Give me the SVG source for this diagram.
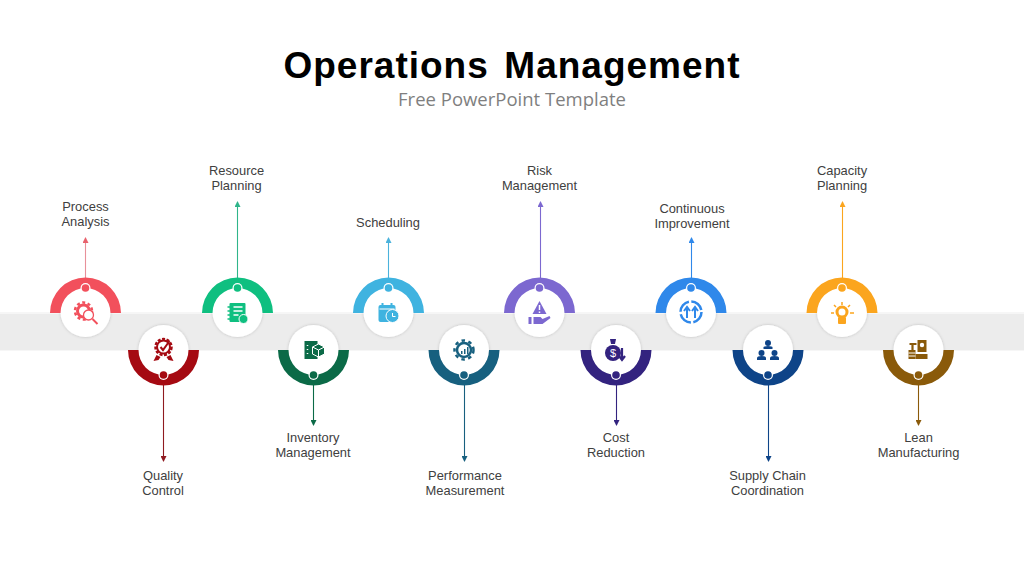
<svg xmlns="http://www.w3.org/2000/svg" width="1024" height="576" viewBox="0 0 1024 576">
<style>
.t{font-family:"Liberation Sans",Arial,sans-serif;font-size:12.9px;fill:#404040;text-anchor:middle}
.title{font-family:"Liberation Sans",Arial,sans-serif;font-size:37px;font-weight:700;fill:#000;text-anchor:middle;letter-spacing:1px;word-spacing:-3.5px}
.sub{font-family:"Open Sans",sans-serif;font-size:18.5px;fill:#7f7f7f;text-anchor:middle}
.c{fill:none;stroke-width:1.1}
</style>
<defs>
<filter id="sh" x="-30%" y="-30%" width="160%" height="160%"><feDropShadow dx="0" dy="0" stdDeviation="1.5" flood-color="#000" flood-opacity=".2"/></filter>
<path id="au" d="M-35.500,0A35.500,35.500 0 0 1 35.500,0H25A25,25 0 0 0-25,0Z"/>
<path id="ad" d="M-35.500,0A35.500,35.500 0 0 0 35.500,0H25A25,25 0 0 1-25,0Z"/>
<marker id="m1" markerUnits="userSpaceOnUse" markerWidth="6" markerHeight="6" refX="5" refY="3" orient="auto"><path d="M0,0L6,3L0,6Z" fill="#e8616c"/></marker>
<marker id="m2" markerUnits="userSpaceOnUse" markerWidth="6" markerHeight="6" refX="5" refY="3" orient="auto"><path d="M0,0L6,3L0,6Z" fill="#8f1a20"/></marker>
<marker id="m3" markerUnits="userSpaceOnUse" markerWidth="6" markerHeight="6" refX="5" refY="3" orient="auto"><path d="M0,0L6,3L0,6Z" fill="#2fb58a"/></marker>
<marker id="m4" markerUnits="userSpaceOnUse" markerWidth="6" markerHeight="6" refX="5" refY="3" orient="auto"><path d="M0,0L6,3L0,6Z" fill="#0b6a47"/></marker>
<marker id="m5" markerUnits="userSpaceOnUse" markerWidth="6" markerHeight="6" refX="5" refY="3" orient="auto"><path d="M0,0L6,3L0,6Z" fill="#4bb2dc"/></marker>
<marker id="m6" markerUnits="userSpaceOnUse" markerWidth="6" markerHeight="6" refX="5" refY="3" orient="auto"><path d="M0,0L6,3L0,6Z" fill="#17607f"/></marker>
<marker id="m7" markerUnits="userSpaceOnUse" markerWidth="6" markerHeight="6" refX="5" refY="3" orient="auto"><path d="M0,0L6,3L0,6Z" fill="#7c68d0"/></marker>
<marker id="m8" markerUnits="userSpaceOnUse" markerWidth="6" markerHeight="6" refX="5" refY="3" orient="auto"><path d="M0,0L6,3L0,6Z" fill="#33237f"/></marker>
<marker id="m9" markerUnits="userSpaceOnUse" markerWidth="6" markerHeight="6" refX="5" refY="3" orient="auto"><path d="M0,0L6,3L0,6Z" fill="#2f88ea"/></marker>
<marker id="m10" markerUnits="userSpaceOnUse" markerWidth="6" markerHeight="6" refX="5" refY="3" orient="auto"><path d="M0,0L6,3L0,6Z" fill="#0e4488"/></marker>
<marker id="m11" markerUnits="userSpaceOnUse" markerWidth="6" markerHeight="6" refX="5" refY="3" orient="auto"><path d="M0,0L6,3L0,6Z" fill="#fba51e"/></marker>
<marker id="m12" markerUnits="userSpaceOnUse" markerWidth="6" markerHeight="6" refX="5" refY="3" orient="auto"><path d="M0,0L6,3L0,6Z" fill="#8a5a0a"/></marker>
</defs>
<rect width="1024" height="576" fill="#fff"/>
<rect id="band" x="0" y="312" width="1024" height="39" fill="#f6f6f6"/>
<rect x="0" y="314" width="1024" height="36" fill="#ececec"/>
<text class="title" x="512" y="78" xml:space="preserve">Operations  Management</text>
<text class="sub" x="512" y="106">Free PowerPoint Template</text>
<g id="connectors">
<path class="c" d="M85.500,278V238" stroke="#e8909a" marker-end="url(#m1)"/>
<path class="c" d="M163.500,385V461" stroke="#8f1a20" marker-end="url(#m2)"/>
<path class="c" d="M237.500,278V202" stroke="#2fb58a" marker-end="url(#m3)"/>
<path class="c" d="M313.500,385V425" stroke="#0b6a47" marker-end="url(#m4)"/>
<path class="c" d="M388.500,278V238" stroke="#4bb2dc" marker-end="url(#m5)"/>
<path class="c" d="M464.500,385V461" stroke="#17607f" marker-end="url(#m6)"/>
<path class="c" d="M540.500,278V202" stroke="#7c68d0" marker-end="url(#m7)"/>
<path class="c" d="M616.500,385V425" stroke="#33237f" marker-end="url(#m8)"/>
<path class="c" d="M691.500,278V238" stroke="#2f88ea" marker-end="url(#m9)"/>
<path class="c" d="M768.500,385V461" stroke="#0e4488" marker-end="url(#m10)"/>
<path class="c" d="M842.500,278V202" stroke="#fba51e" marker-end="url(#m11)"/>
<path class="c" d="M918.500,385V425" stroke="#8a5a0a" marker-end="url(#m12)"/>
</g>
<g id="n1" transform="translate(85.500,313)" fill="#f2505c">
<circle r="25" cy="-1" fill="#fff" filter="url(#sh)"/><use href="#au"/><circle cy="-25" r="5" fill="#fff"/><circle cy="-25" r="3.800"/>
<circle cx="-2" cy="-2" r="6" fill="none" stroke="#f2505c" stroke-width="3"/><circle cx="-2" cy="-2" r="8.500" fill="none" stroke="#f2505c" stroke-width="2.500" stroke-dasharray="3 2.500"/>
<circle cx="3" cy="2" r="5" fill="#fff" stroke="#f2505c" stroke-width="1.300"/><path d="M7,6L12,11" stroke="#f2505c" stroke-width="2"/>
</g>
<text class="t" x="85.500" y="211">Process</text><text class="t" x="85.500" y="226">Analysis</text>
<g id="n2" transform="translate(163.500,350)" fill="#a50a12">
<circle r="25" fill="#fff" filter="url(#sh)"/><use href="#ad"/><circle cy="25" r="5" fill="#fff"/><circle cy="25" r="3.800"/>
<circle cy="-3" r="6.500" fill="none" stroke="#a50a12" stroke-width="2"/><circle cy="-3" r="8" fill="none" stroke="#a50a12" stroke-width="2.500" stroke-dasharray="3 1.500"/>
<path d="M-3,-3L-.5,0L6,-9" fill="none" stroke="#a50a12" stroke-width="2"/><path d="M-7,5L-10,11L-5,10L-3,7ZM7,5L10,11L5,10L3,7Z"/>
</g>
<text class="t" x="163" y="480">Quality</text><text class="t" x="163" y="495">Control</text>
<g id="n3" transform="translate(237.500,313)" fill="#0fbf80">
<circle r="25" cy="-1" fill="#fff" filter="url(#sh)"/><use href="#au"/><circle cy="-25" r="5" fill="#fff"/><circle cy="-25" r="3.800"/>
<rect x="-8" y="-10" width="16" height="19" rx="1"/><path d="M-10,-6h3M-10,-2h3M-10,2h3M-10,6h3" stroke="#0fbf80" stroke-width="1.500"/><path d="M-4,-6h9M-4,-2h9M-4,2h5" stroke="#fff" stroke-width="1.300"/><circle cx="6" cy="6" r="4.500" stroke="#fff"/>
</g>
<text class="t" x="236.500" y="175">Resource</text><text class="t" x="236.500" y="190">Planning</text>
<g id="n4" transform="translate(313.500,350)" fill="#0b6a47">
<circle r="25" fill="#fff" filter="url(#sh)"/><use href="#ad"/><circle cy="25" r="5" fill="#fff"/><circle cy="25" r="3.800"/>
<rect x="-9" y="-9" width="13" height="18"/><path d="M-6,-5v1M-6,-1v1M-6,3v1" stroke="#fff" stroke-width="1.500"/><path d="M-1,-3L5,-6L11,-3V4L5,7L-1,4Z" stroke="#fff"/><path d="M-1,-3L5,0L11,-3M5,0V7" fill="none" stroke="#fff"/>
</g>
<text class="t" x="313" y="442">Inventory</text><text class="t" x="313" y="457">Management</text>
<g id="n5" transform="translate(388.500,313)" fill="#3fb3e0">
<circle r="25" cy="-1" fill="#fff" filter="url(#sh)"/><use href="#au"/><circle cy="-25" r="5" fill="#fff"/><circle cy="-25" r="3.800"/>
<rect x="-10" y="-8" width="17" height="17" rx="2"/><path d="M-6,-10v3M3,-10v3" stroke="#3fb3e0" stroke-width="2"/><path d="M-9,-4H6" stroke="#fff"/><circle cx="4" cy="3" r="6.500" stroke="#fff"/><path d="M4,0V3.500H7" fill="none" stroke="#fff"/>
</g>
<text class="t" x="388" y="227">Scheduling</text>
<g id="n6" transform="translate(464,350)" fill="#17607f">
<circle r="25" fill="#fff" filter="url(#sh)"/><use href="#ad"/><circle cy="25" r="5" fill="#fff"/><circle cy="25" r="3.800"/>
<circle r="7" fill="none" stroke="#17607f" stroke-width="2.500"/><circle r="9.500" fill="none" stroke="#17607f" stroke-width="2.500" stroke-dasharray="3.500 3.500"/><path d="M-3,1h1.500v3h-1.500zM0,-1h1.500v5h-1.500zM3,-3h1.500v7h-1.500z"/>
</g>
<text class="t" x="465" y="480">Performance</text><text class="t" x="465" y="495">Measurement</text>
<g id="n7" transform="translate(539.500,313)" fill="#7c68d0">
<circle r="25" cy="-1" fill="#fff" filter="url(#sh)"/><use href="#au"/><circle cy="-25" r="5" fill="#fff"/><circle cy="-25" r="3.800"/>
<path d="M0,-12L7,1H-7Z"/><path d="M0,-8V-3M0,-1.500V0" stroke="#fff" stroke-width="1.500"/><rect x="-11" y="4" width="3" height="7"/><path d="M-6,4H1L3,6L10,3L11,5L3,11H-6Z"/>
</g>
<text class="t" x="539.500" y="175">Risk</text><text class="t" x="539.500" y="190">Management</text>
<g id="n8" transform="translate(616,350)" fill="#33237f">
<circle r="25" fill="#fff" filter="url(#sh)"/><use href="#ad"/><circle cy="25" r="5" fill="#fff"/><circle cy="25" r="3.800"/>
<path d="M-6,-11H0L-1,-6H-5Z"/><circle cx="-3" cy="3" r="8"/><text x="-3" y="7" font-family="Liberation Sans,sans-serif" font-size="11" fill="#fff" text-anchor="middle">$</text><path d="M6,-2V9M3,6L6,10L9,6" fill="none" stroke="#33237f" stroke-width="2.200"/>
</g>
<text class="t" x="616" y="442">Cost</text><text class="t" x="616" y="457">Reduction</text>
<g id="n9" transform="translate(691,313)" fill="#2f88ea">
<circle r="25" cy="-1" fill="#fff" filter="url(#sh)"/><use href="#au"/><circle cy="-25" r="5" fill="#fff"/><circle cy="-25" r="3.800"/>
<circle cy="-1" r="10.500" fill="none" stroke="#2f88ea" stroke-width="2.500" stroke-dasharray="14 2.500"/><path d="M-4,5V-5M-7,-2L-4,-6L-1,-2M4,5V-5M1,-2L4,-6L7,-2" fill="none" stroke="#2f88ea" stroke-width="2"/>
</g>
<text class="t" x="692" y="213">Continuous</text><text class="t" x="692" y="228">Improvement</text>
<g id="n10" transform="translate(768,350)" fill="#0e4488">
<circle r="25" fill="#fff" filter="url(#sh)"/><use href="#ad"/><circle cy="25" r="5" fill="#fff"/><circle cy="25" r="3.800"/>
<circle cy="-7" r="3"/><path d="M-4.500,-1V-2.500Q-4.500,-4 0,-4T4.500,-2.500V-1Z"/><circle cx="-6.500" cy="3" r="3"/><path d="M-11,10V8Q-11,6 -6.500,6T-2,8V10Z"/><circle cx="6.500" cy="3" r="3"/><path d="M2,10V8Q2,6 6.500,6T11,8V10Z"/>
</g>
<text class="t" x="767.500" y="480">Supply Chain</text><text class="t" x="767.500" y="495">Coordination</text>
<g id="n11" transform="translate(842,313)" fill="#fba51e">
<circle r="25" cy="-1" fill="#fff" filter="url(#sh)"/><use href="#au"/><circle cy="-25" r="5" fill="#fff"/><circle cy="-25" r="3.800"/>
<circle cy="-1" r="5" fill="none" stroke="#fba51e" stroke-width="3"/><rect x="-4" y="4" width="8" height="7" rx="1"/><path d="M0,-11V-8M-8,-8L-6,-6M8,-8L6,-6M-11,0H-8M12,0H8" stroke="#fba51e" stroke-width="1.500"/>
</g>
<text class="t" x="842" y="175">Capacity</text><text class="t" x="842" y="190">Planning</text>
<g id="n12" transform="translate(918.500,350)" fill="#8a5a0a">
<circle r="25" fill="#fff" filter="url(#sh)"/><use href="#ad"/><circle cy="25" r="5" fill="#fff"/><circle cy="25" r="3.800"/>
<rect x="-10" y="0" width="7" height="9"/><path d="M-9,-6H-2M-6,-6V0" stroke="#8a5a0a" stroke-width="2.200"/><rect x="-3" y="4" width="12" height="5"/><path d="M-1,-10H8V2H-1Z"/><circle cx="3.500" cy="-5" r="2.200" fill="#fff"/><path d="M-10,3h7M-10,6h7" stroke="#fff"/>
</g>
<text class="t" x="918.500" y="442">Lean</text><text class="t" x="918.500" y="457">Manufacturing</text>
</svg>
